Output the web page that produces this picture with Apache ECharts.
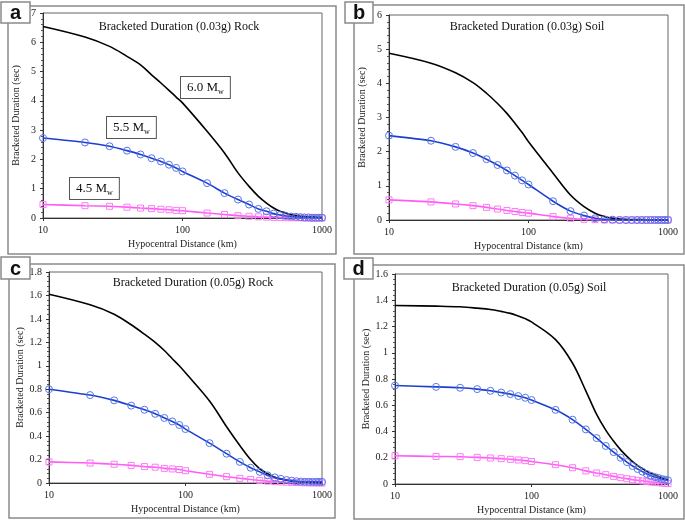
<!DOCTYPE html>
<html>
<head>
<meta charset="utf-8">
<script src="https://cdn.jsdelivr.net/npm/echarts@6/dist/echarts.min.js"></script>
<style>
  html, body { margin: 0; padding: 0; background: #fff; }
  #chart { width: 685px; height: 520px; }
</style>
</head>
<body>
<div id="chart"></div>
<script>
// x values (km), shared by all four panels
const distance = [10, 20, 30, 40, 50, 60, 70, 80, 90, 100, 150, 200, 250, 300, 350, 400, 450, 500, 550, 600, 650, 700, 750, 800, 850, 900, 950, 1000];

// a: 0.03g rock
const rockA60 = [6.54, 6.18, 5.86, 5.52, 5.23, 4.89, 4.61, 4.36, 4.13, 3.93, 2.96, 2.22, 1.54, 1.08, 0.74, 0.51, 0.34, 0.23, 0.17, 0.11, 0.08, 0.06, 0.05, 0.04, 0.03, 0.03, 0.02, 0.02];
const rockA55 = [2.73, 2.58, 2.45, 2.30, 2.17, 2.04, 1.93, 1.82, 1.71, 1.59, 1.19, 0.85, 0.63, 0.46, 0.31, 0.23, 0.15, 0.10, 0.07, 0.05, 0.04, 0.03, 0.02, 0.02, 0.01, 0.01, 0.01, 0.01];
const rockA45 = [0.46, 0.42, 0.40, 0.37, 0.34, 0.32, 0.30, 0.28, 0.26, 0.25, 0.17, 0.12, 0.08, 0.06, 0.04, 0.03, 0.02, 0.02, 0.01, 0.01, 0.01, 0.01, 0, 0, 0, 0, 0, 0];

// b: 0.03g soil
const soilB60 = [4.88, 4.59, 4.31, 4.02, 3.71, 3.41, 3.12, 2.83, 2.56, 2.29, 1.37, 0.73, 0.39, 0.20, 0.10, 0.05, 0.03, 0.02, 0.01, 0.01, 0.01, 0, 0, 0, 0, 0, 0, 0];
const soilB55 = [2.47, 2.32, 2.14, 1.96, 1.78, 1.61, 1.45, 1.30, 1.16, 1.04, 0.55, 0.26, 0.13, 0.05, 0.02, 0.01, 0, 0, 0, 0, 0, 0, 0, 0, 0, 0, 0, 0];
const soilB45 = [0.59, 0.53, 0.47, 0.42, 0.37, 0.32, 0.28, 0.25, 0.22, 0.20, 0.10, 0.05, 0.02, 0.01, 0, 0, 0, 0, 0, 0, 0, 0, 0, 0, 0, 0, 0, 0];

// c: 0.05g rock
const rockC60 = [1.61, 1.52, 1.44, 1.35, 1.27, 1.20, 1.13, 1.06, 1.0, 0.94, 0.70, 0.48, 0.32, 0.20, 0.12, 0.08, 0.05, 0.034, 0.023, 0.017, 0.013, 0.01, 0.008, 0.006, 0.005, 0.004, 0.003, 0.003];
const rockC55 = [0.80, 0.75, 0.705, 0.66, 0.625, 0.59, 0.555, 0.525, 0.495, 0.46, 0.34, 0.25, 0.18, 0.13, 0.095, 0.065, 0.048, 0.035, 0.025, 0.02, 0.015, 0.012, 0.01, 0.01, 0.01, 0.01, 0.01, 0.01];
const rockC45 = [0.18, 0.17, 0.16, 0.15, 0.14, 0.135, 0.125, 0.12, 0.115, 0.105, 0.074, 0.054, 0.04, 0.03, 0.022, 0.016, 0.012, 0.009, 0.007, 0.005, 0.004, 0.003, 0.002, 0.002, 0.001, 0.001, 0.001, 0];

// d: 0.05g soil
const soilD60 = [1.36, 1.355, 1.35, 1.34, 1.33, 1.315, 1.30, 1.28, 1.26, 1.235, 1.10, 0.92, 0.71, 0.53, 0.41, 0.325, 0.26, 0.21, 0.17, 0.14, 0.117, 0.096, 0.081, 0.068, 0.058, 0.048, 0.04, 0.033];
const soilD55 = [0.75, 0.74, 0.733, 0.723, 0.71, 0.697, 0.685, 0.67, 0.657, 0.64, 0.565, 0.49, 0.416, 0.35, 0.29, 0.243, 0.20, 0.167, 0.137, 0.114, 0.094, 0.076, 0.063, 0.053, 0.046, 0.038, 0.033, 0.028];
const soilD45 = [0.215, 0.21, 0.208, 0.203, 0.198, 0.193, 0.188, 0.183, 0.178, 0.172, 0.147, 0.124, 0.10, 0.084, 0.071, 0.058, 0.048, 0.04, 0.033, 0.028, 0.023, 0.02, 0.015, 0.013, 0.01, 0.008, 0.005, 0.003];

const panelTitles = ['Bracketed Duration (0.03g) Rock', 'Bracketed Duration (0.03g) Soil', 'Bracketed Duration (0.05g) Rock', 'Bracketed Duration (0.05g) Soil'];
const panelLetters = ['a', 'b', 'c', 'd'];
const yMax = [7, 6, 1.8, 1.6];
const yStep = [1, 1, 0.2, 0.2];
const magnitudes = ['6.0', '5.5', '4.5'];

const serif = '"Liberation Serif", "DejaVu Serif", serif';

const panels = [
    [rockA60, rockA55, rockA45],
    [soilB60, soilB55, soilB45],
    [rockC60, rockC55, rockC45],
    [soilD60, soilD55, soilD45]
];

// plot area boxes [left, top, width, height]
const grids = [
    [43, 13, 279, 205],
    [389, 15, 279, 205],
    [49, 272, 273, 211],
    [395, 274, 273, 210]
];
// outer frames [x, y, w, h]
const frames = [
    [8, 6, 328, 248],
    [354, 5, 330, 249],
    [9, 264, 326, 254],
    [354, 265, 330, 254]
];
const letterBoxes = [
    [1, 2, 29, 21],
    [345, 2, 28, 21],
    [1, 257, 29, 22],
    [344, 258, 29, 21]
];
const titlePos = [[179, 27], [527, 27], [193, 283], [529, 288]];

const pairs = (ys) => distance.map((d, i) => [d, ys[i]]);

const myChart = echarts.init(document.getElementById('chart'));

const option = {
    backgroundColor: '#fff',
    animation: false,
    grid: grids.map(g => ({
        left: g[0], top: g[1], width: g[2], height: g[3],
        show: true, borderColor: '#666', borderWidth: 1, backgroundColor: '#fff'
    })),
    xAxis: grids.map((g, i) => ({
        type: 'log', logBase: 10, min: 10, max: 1000, gridIndex: i,
        name: 'Hypocentral Distance (km)', nameLocation: 'middle', nameGap: 21,
        nameTextStyle: { fontFamily: serif, fontSize: 10, color: '#222' },
        axisLine: { lineStyle: { color: '#333' } },
        axisTick: { inside: false, length: 3, lineStyle: { color: '#333' } },
        axisLabel: { fontFamily: serif, fontSize: 10, color: '#222', margin: 7, formatter: v => String(v) },
        splitLine: { show: false }
    })),
    yAxis: grids.map((g, i) => ({
        type: 'value', min: 0, max: yMax[i], interval: yStep[i], gridIndex: i,
        name: 'Bracketed Duration (sec)', nameLocation: 'middle', nameGap: 22,
        nameTextStyle: { fontFamily: serif, fontSize: 10, color: '#222' },
        axisLine: { show: true, lineStyle: { color: '#333' } },
        axisTick: { length: 3, lineStyle: { color: '#333' } },
        minorTick: { show: true, splitNumber: 5, length: 2, lineStyle: { color: '#555' } },
        axisLabel: { fontFamily: serif, fontSize: 10, color: '#222', margin: 7 },
        splitLine: { show: false }
    })),
    series: [],
    graphic: []
};

panels.forEach((sets, i) => {
    option.series.push({
        type: 'line', xAxisIndex: i, yAxisIndex: i, data: pairs(sets[0]),
        showSymbol: false, smooth: 0.35,
        lineStyle: { color: '#000', width: 1.6 }, z: 3
    });
    option.series.push({
        type: 'line', xAxisIndex: i, yAxisIndex: i, data: pairs(sets[1]),
        symbol: 'circle', symbolSize: 7, smooth: 0.2,
        lineStyle: { color: '#1d3fd0', width: 1.6 },
        itemStyle: { color: 'rgba(0,0,0,0)', borderColor: '#5577ea', borderWidth: 1 }, z: 4
    });
    option.series.push({
        type: 'line', xAxisIndex: i, yAxisIndex: i, data: pairs(sets[2]),
        symbol: 'rect', symbolSize: 6, smooth: 0.2,
        lineStyle: { color: '#ff5cf5', width: 1.6 },
        itemStyle: { color: 'rgba(0,0,0,0)', borderColor: '#ff7af8', borderWidth: 1 }, z: 2
    });

    const f = frames[i];
    option.graphic.push({
        type: 'rect', shape: { x: f[0], y: f[1], width: f[2], height: f[3] },
        style: { fill: null, stroke: '#8a8a8a', lineWidth: 1.5 }, z: -10
    });
    const b = letterBoxes[i];
    option.graphic.push({
        type: 'rect', shape: { x: b[0], y: b[1], width: b[2], height: b[3] },
        style: { fill: '#fff', stroke: '#8a8a8a', lineWidth: 1.5 }, z: 10
    });
    option.graphic.push({
        type: 'text', x: b[0] + b[2] / 2, y: b[1] + b[3] / 2 + 1, z: 11,
        style: {
            text: panelLetters[i], fontFamily: 'Liberation Sans, Arial, sans-serif',
            fontWeight: 'bold', fontSize: 20, fill: '#111', align: 'center', verticalAlign: 'middle'
        }
    });
    option.graphic.push({
        type: 'text', x: titlePos[i][0], y: titlePos[i][1], z: 11,
        style: {
            text: panelTitles[i], fontFamily: serif, fontSize: 12, fill: '#111',
            align: 'center', verticalAlign: 'middle'
        }
    });
});

// magnitude callouts in panel a
const magBoxes = [[181, 77], [107, 117], [70, 178]];
magnitudes.forEach((m, k) => {
    option.graphic.push({
        type: 'text', x: magBoxes[k][0], y: magBoxes[k][1], z: 12,
        style: {
            text: '{n|' + m + ' M}{s|w}',
            backgroundColor: '#fff', borderColor: '#555', borderWidth: 1,
            padding: [3, 6, 2, 6],
            rich: {
                n: { fontFamily: serif, fontSize: 13, fill: '#111', lineHeight: 16 },
                s: { fontFamily: serif, fontSize: 8, fill: '#111', padding: [8, 0, 0, 0], lineHeight: 16 }
            }
        }
    });
});

option && myChart.setOption(option);
</script>
</body>
</html>
